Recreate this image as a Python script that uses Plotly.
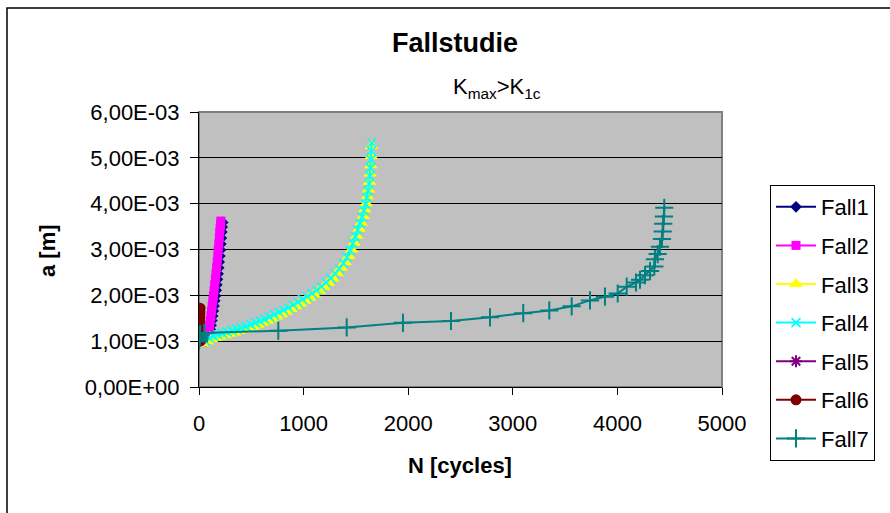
import plotly.graph_objects as go

# Crack length a (values in units of 1e-3 m) versus load cycles N for seven cases
fall1_n = [66, 77, 88, 98, 107, 115, 123, 130, 137, 144, 151, 158, 164, 170, 176, 182, 188, 193, 199, 204, 209, 214, 218, 222, 226]
fall1_a = [1.00, 1.05, 1.11, 1.18, 1.26, 1.35, 1.45, 1.55, 1.66, 1.77, 1.88, 1.99, 2.11, 2.23, 2.35, 2.47, 2.60, 2.73, 2.86, 2.99, 3.12, 3.25, 3.38, 3.49, 3.59]

fall2_n = [62, 71, 80, 88, 95, 102, 108, 114, 120, 126, 132, 138, 144, 150, 156, 162, 168, 174, 179, 184, 189, 194, 198, 202, 206, 209]
fall2_a = [1.00, 1.05, 1.11, 1.18, 1.26, 1.35, 1.45, 1.55, 1.66, 1.77, 1.88, 1.99, 2.11, 2.23, 2.35, 2.47, 2.60, 2.73, 2.86, 2.99, 3.12, 3.25, 3.38, 3.47, 3.55, 3.62]

fall3_n = [40, 80, 120, 160, 200, 248, 292, 338, 382, 428, 472, 518, 562, 608, 652, 698, 742, 788, 832, 878,
           922, 968, 1012, 1058, 1102, 1148, 1192, 1238, 1280, 1320, 1360, 1398, 1432, 1458, 1483, 1507, 1530, 1550,
           1569, 1585, 1599, 1611, 1622, 1630, 1636, 1642, 1646, 1650]
fall3_a = [0.95, 1.00, 1.04, 1.07, 1.10, 1.13, 1.16, 1.19, 1.22, 1.25, 1.28, 1.32, 1.36, 1.40, 1.44, 1.49, 1.54, 1.59, 1.64, 1.70,
           1.76, 1.82, 1.88, 1.95, 2.02, 2.10, 2.18, 2.27, 2.37, 2.48, 2.60, 2.72, 2.86, 3.00, 3.15, 3.30, 3.45, 3.59,
           3.73, 3.87, 4.01, 4.16, 4.31, 4.48, 4.66, 4.84, 5.04, 5.26]

fall4_n = [60, 100, 140, 180, 225, 270, 315, 360, 405, 450, 495, 540, 585, 630, 675, 720, 765, 810, 855, 900,
           945, 990, 1035, 1080, 1125, 1170, 1215, 1260, 1300, 1340, 1380, 1415, 1445, 1470, 1495, 1518, 1540, 1560,
           1577, 1592, 1605, 1617, 1626, 1633, 1639, 1644, 1648, 1652]
fall4_a = [1.00, 1.07, 1.11, 1.14, 1.17, 1.20, 1.23, 1.26, 1.29, 1.32, 1.36, 1.40, 1.44, 1.48, 1.53, 1.58, 1.63, 1.68, 1.73, 1.79,
           1.85, 1.91, 1.97, 2.04, 2.11, 2.19, 2.28, 2.37, 2.47, 2.58, 2.70, 2.83, 2.98, 3.13, 3.28, 3.43, 3.57, 3.71,
           3.85, 3.99, 4.13, 4.28, 4.43, 4.60, 4.78, 4.96, 5.15, 5.33]

fall5_n = [0, 5, 10, 15, 20]
fall5_a = [1.00, 1.01, 1.02, 1.03, 1.04]

fall6_n = [0, 1, 2, 3, 4, 5, 6, 7, 8, 9, 10]
fall6_a = [1.00, 1.08, 1.16, 1.24, 1.31, 1.38, 1.45, 1.52, 1.58, 1.64, 1.72]

fall7_n = [0, 2, 4, 7, 12, 50, 758, 1412, 1950, 2409, 2782, 3100, 3349, 3563, 3738, 3881, 4003, 4089, 4178,
           4216, 4264, 4312, 4353, 4359, 4385, 4407, 4426, 4433, 4438, 4445, 4448]
fall7_a = [1.00, 1.04, 1.08, 1.12, 1.16, 1.18, 1.23, 1.30, 1.40, 1.44, 1.52, 1.61, 1.67, 1.76, 1.89, 1.97, 2.04, 2.19, 2.28,
           2.34, 2.44, 2.53, 2.63, 2.79, 2.90, 3.06, 3.23, 3.39, 3.56, 3.72, 3.91]

y_ticks = [0, 0.001, 0.002, 0.003, 0.004, 0.005, 0.006]
y_ticktext = ["0,00E+00", "1,00E-03", "2,00E-03", "3,00E-03", "4,00E-03", "5,00E-03", "6,00E-03"]
x_ticks = [0, 1000, 2000, 3000, 4000, 5000]

FONT = "Liberation Sans, Arial, sans-serif"

series = [
    ("Fall1", fall1_n, fall1_a, "#000080", dict(symbol="diamond", size=9)),
    ("Fall2", fall2_n, fall2_a, "#FF00FF", dict(symbol="square", size=9)),
    ("Fall3", fall3_n, fall3_a, "#FFFF00", dict(symbol="triangle-up", size=12)),
    ("Fall4", fall4_n, fall4_a, "#00FFFF", dict(symbol="x-thin", size=9, line=dict(width=1.6, color="#00FFFF"))),
    ("Fall5", fall5_n, fall5_a, "#800080", dict(symbol="asterisk", size=10, line=dict(width=2, color="#800080"))),
    ("Fall6", fall6_n, fall6_a, "#800000", dict(symbol="circle", size=11)),
    ("Fall7", fall7_n, fall7_a, "#008080", dict(symbol="cross-thin", size=13, line=dict(width=2, color="#008080"))),
]

fig = go.Figure()
for name, n, a, color, marker in series:
    m = dict(color=color)
    m.update(marker)
    fig.add_trace(go.Scatter(
        x=n, y=[v * 1e-3 for v in a], name=name, mode="lines+markers",
        line=dict(color=color, width=2), marker=m, legendgroup=name,
    ))

# paper-coordinate helpers for decorations around the plot area
L, R, T, B = 199, 168, 112, 126
W, H = 890, 513
pw, ph = W - L - R, H - T - B


def px_x(x):
    return (x - L) / pw


def px_y(y):
    return (H - B - y) / ph


fig.update_layout(
    width=W, height=H,
    margin=dict(l=L, r=R, t=T, b=B),
    paper_bgcolor="white",
    plot_bgcolor="#C0C0C0",
    font=dict(family=FONT, size=22, color="black"),
    showlegend=True,
    legend=dict(
        x=px_x(770), y=px_y(185), xanchor="left", yanchor="top",
        bordercolor="black", borderwidth=1, bgcolor="white",
        font=dict(family=FONT, size=22), tracegroupgap=7, itemwidth=40,
        maxheight=400,
    ),
    xaxis=dict(
        range=[0, 5000], tickvals=x_ticks, showgrid=False, zeroline=False,
        showline=True, linecolor="black", linewidth=1,
        ticks="outside", ticklen=7, tickcolor="black",
        tickfont=dict(family=FONT, size=22), ticklabelstandoff=10,
    ),
    yaxis=dict(
        range=[0, 0.006], tickvals=y_ticks, ticktext=y_ticktext,
        showgrid=True, gridcolor="black", gridwidth=1, zeroline=False,
        showline=True, linecolor="black", linewidth=1,
        ticks="outside", ticklen=8, tickcolor="black",
        tickfont=dict(family=FONT, size=22), ticklabelstandoff=6,
    ),
    shapes=[
        # outer chart frame
        dict(type="rect", xref="paper", yref="paper",
             x0=px_x(7), x1=px_x(900), y0=px_y(530), y1=px_y(8),
             line=dict(color="black", width=1.5), fillcolor="rgba(0,0,0,0)", layer="below"),
        # plot area frame
        dict(type="rect", xref="paper", yref="paper", x0=0, x1=1, y0=0, y1=1,
             line=dict(color="#808080", width=2), fillcolor="rgba(0,0,0,0)", layer="below"),
    ],
    annotations=[
        dict(text="<b>Fallstudie</b>", xref="paper", yref="paper",
             x=px_x(455), y=px_y(43), showarrow=False, font=dict(size=27),
             xanchor="center", yanchor="middle"),
        dict(text="K<sub>max</sub>&gt;K<sub>1c</sub>", xref="paper", yref="paper",
             x=px_x(497), y=px_y(88), showarrow=False, font=dict(size=22),
             xanchor="center", yanchor="middle"),
        dict(text="<b>N [cycles]</b>", xref="paper", yref="paper",
             x=px_x(460), y=px_y(465), showarrow=False, font=dict(size=22),
             xanchor="center", yanchor="middle"),
        dict(text="<b>a [m]</b>", xref="paper", yref="paper",
             x=px_x(47), y=px_y(250), showarrow=False, font=dict(size=22),
             textangle=-90, xanchor="center", yanchor="middle"),
    ],
)

fig.write_html("out.html")
